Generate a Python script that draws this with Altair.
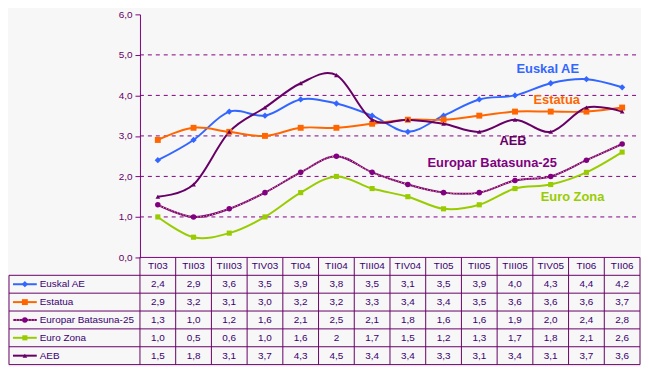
import altair as alt
import pandas as pd

categories = ["TI03", "TII03", "TIII03", "TIV03", "TI04", "TII04", "TIII04",
              "TIV04", "TI05", "TII05", "TIII05", "TIV05", "TI06", "TII06"]
series = ["Euskal AE", "Estatua", "Europar Batasuna-25", "Euro Zona", "AEB"]
euskal_ae = [2.4, 2.9, 3.6, 3.5, 3.9, 3.8, 3.5, 3.1, 3.5, 3.9, 4.0, 4.3, 4.4, 4.2]
estatua = [2.9, 3.2, 3.1, 3.0, 3.2, 3.2, 3.3, 3.4, 3.4, 3.5, 3.6, 3.6, 3.6, 3.7]
europar_b25 = [1.3, 1.0, 1.2, 1.6, 2.1, 2.5, 2.1, 1.8, 1.6, 1.6, 1.9, 2.0, 2.4, 2.8]
euro_zona = [1.0, 0.5, 0.6, 1.0, 1.6, 2, 1.7, 1.5, 1.2, 1.3, 1.7, 1.8, 2.1, 2.6]
aeb = [1.5, 1.8, 3.1, 3.7, 4.3, 4.5, 3.4, 3.4, 3.3, 3.1, 3.4, 3.1, 3.7, 3.6]
y_ticks = [0, 1, 2, 3, 4, 5, 6]
grid_vals = [1, 2, 3, 4, 5]

# in-chart series labels (annotation anchors)
ann_text = ["Euskal AE", "Estatua", "AEB", "Europar Batasuna-25", "Euro Zona"]
ann_cat = ["TIV05", "TIV05", "TIII05", "TII05", "TIV05"]
ann_val = [4.65, 3.88, 2.88, 2.34, 1.50]

colors = ["#3366FF", "#FF6600", "#800080", "#99CC00", "#660066"]
shapes = ["diamond", "square", "circle", "square", "triangle-up"]
sizes = [40, 22, 7, 22, 30]

PURPLE = "#660066"
TXT = "#3A0070"
FONT = "Liberation Sans"
W, H, TH = 504, 245, 108
LEFT = -132


def fmt(v):
    return str(v) if isinstance(v, int) else f"{v:.1f}".replace(".", ",")


rows = []
for s, vals in zip(series, [euskal_ae, estatua, europar_b25, euro_zona, aeb]):
    for i, (c, v) in enumerate(zip(categories, vals)):
        rows.append({"series": s, "cat": c, "value": float(v), "label": fmt(v), "idx": i, "row": s})
df = pd.DataFrame(rows)
sdf = pd.DataFrame({"series": series, "row": series})
hdf = pd.DataFrame({"cat": categories, "row": "hdr"})
gdf = pd.DataFrame({"g": grid_vals})
adf = pd.DataFrame({"series": ann_text, "cat": ann_cat, "value": ann_val})
one = pd.DataFrame({"a": [0]})

color_scale = alt.Scale(domain=series, range=colors)
shape_scale = alt.Scale(domain=series, range=shapes)
size_scale = alt.Scale(domain=series, range=sizes)

xp = alt.X("cat:N", scale=alt.Scale(type="point", domain=categories, padding=0.5), axis=None)
yq = alt.Y("value:Q", scale=alt.Scale(domain=[0, 6], nice=False),
           axis=alt.Axis(values=y_ticks, grid=False, title=None,
                         labelExpr="replace(format(datum.value, '.1f'), '.', ',')",
                         domainColor="#800080", tickColor="#800080", tickSize=5,
                         labelColor=PURPLE, labelFont=FONT, labelFontSize=10, labelPadding=3))

grid = alt.Chart(gdf).mark_rule(color="#800080", strokeDash=[4, 4], strokeWidth=1).encode(
    y=alt.Y("g:Q", scale=alt.Scale(domain=[0, 6], nice=False)),
    x=alt.value(0), x2=alt.value(W))

lines = alt.Chart(df).mark_line(interpolate="cardinal", strokeWidth=2).encode(
    x=xp, y=yq,
    color=alt.Color("series:N", scale=color_scale, legend=None),
    order=alt.Order("idx:Q"))

eb_dots = alt.Chart(df[df.series == "Europar Batasuna-25"]).mark_line(
    interpolate="cardinal", strokeWidth=1, color="#E0D060", strokeDash=[1, 2]).encode(
    x=xp, y=alt.Y("value:Q"), order=alt.Order("idx:Q"))

points = alt.Chart(df).mark_point(filled=True, opacity=1).encode(
    x=xp, y=alt.Y("value:Q"),
    color=alt.Color("series:N", scale=color_scale, legend=None),
    shape=alt.Shape("series:N", scale=shape_scale, legend=None),
    size=alt.Size("series:N", scale=size_scale, legend=None))

ann_dx = {"Euskal AE": -3, "Estatua": 6, "AEB": -2, "Europar Batasuna-25": 13, "Euro Zona": 22}
ann_layers = []
for name in ann_text:
    ann_layers.append(
        alt.Chart(adf[adf.series == name]).mark_text(
            font=FONT, fontSize=13, fontWeight="bold", dx=ann_dx[name]).encode(
            x=xp, y=alt.Y("value:Q"), text="series:N",
            color=alt.Color("series:N", scale=color_scale, legend=None)))

top = alt.layer(grid, lines, eb_dots, points, *ann_layers).properties(width=W, height=H)

# ---------- table ----------
xb_scale = alt.Scale(type="band", domain=categories, paddingInner=0, paddingOuter=0)
yb_scale = alt.Scale(type="band", domain=["hdr"] + series, paddingInner=0, paddingOuter=0)

vals_t = alt.Chart(df).mark_text(font=FONT, fontSize=10, color=TXT).encode(
    x=alt.X("cat:N", scale=xb_scale, axis=None, bandPosition=0.5),
    y=alt.Y("row:N", scale=yb_scale, axis=None, bandPosition=0.5),
    text="label:N")
hdr_t = alt.Chart(hdf).mark_text(font=FONT, fontSize=10, color=TXT).encode(
    x=alt.X("cat:N", scale=xb_scale, axis=None, bandPosition=0.5),
    y=alt.Y("row:N", scale=yb_scale, axis=None, bandPosition=0.5),
    text="cat:N")
vlines = alt.Chart(hdf).mark_rule(color=PURPLE, strokeWidth=1).encode(
    x=alt.X("cat:N", scale=xb_scale, axis=None, bandPosition=0),
    y=alt.value(0), y2=alt.value(TH))
vright = alt.Chart(one).mark_rule(color=PURPLE, strokeWidth=1).encode(
    x=alt.value(W), y=alt.value(0), y2=alt.value(TH))
vleft = alt.Chart(one).mark_rule(color=PURPLE, strokeWidth=1).encode(
    x=alt.value(LEFT), y=alt.value(TH / 6), y2=alt.value(TH))
hlines = alt.Chart(sdf).mark_rule(color=PURPLE, strokeWidth=1).encode(
    y=alt.Y("row:N", scale=yb_scale, axis=None, bandPosition=0),
    x=alt.value(LEFT), x2=alt.value(W))
htop = alt.Chart(one).mark_rule(color="#800080", strokeWidth=1).encode(
    y=alt.value(0), x=alt.value(0), x2=alt.value(W))
hbot = alt.Chart(one).mark_rule(color=PURPLE, strokeWidth=1).encode(
    y=alt.value(TH), x=alt.value(LEFT), x2=alt.value(W))
leg_line = alt.Chart(sdf).mark_rule(strokeWidth=2).encode(
    y=alt.Y("row:N", scale=yb_scale, axis=None, bandPosition=0.5),
    x=alt.value(LEFT + 4), x2=alt.value(LEFT + 28),
    color=alt.Color("series:N", scale=color_scale, legend=None))
leg_dots = alt.Chart(sdf[sdf.series == "Europar Batasuna-25"]).mark_rule(
    strokeWidth=1, color="#E0D060", strokeDash=[1, 2]).encode(
    y=alt.Y("row:N", scale=yb_scale, axis=None, bandPosition=0.5),
    x=alt.value(LEFT + 4), x2=alt.value(LEFT + 28))
leg_pts = alt.Chart(sdf).mark_point(filled=True, opacity=1).encode(
    y=alt.Y("row:N", scale=yb_scale, axis=None, bandPosition=0.5),
    x=alt.value(LEFT + 16),
    color=alt.Color("series:N", scale=color_scale, legend=None),
    shape=alt.Shape("series:N", scale=shape_scale, legend=None),
    size=alt.Size("series:N", scale=size_scale, legend=None))
leg_txt = alt.Chart(sdf).mark_text(font=FONT, fontSize=10, color=TXT, align="left").encode(
    y=alt.Y("row:N", scale=yb_scale, axis=None, bandPosition=0.5),
    x=alt.value(LEFT + 31), text="series:N")

table = alt.layer(vlines, vright, vleft, hlines, htop, hbot, leg_line, leg_dots, leg_pts,
                  leg_txt, hdr_t, vals_t).properties(width=W, height=TH)

chart = alt.vconcat(top, table, spacing=0, bounds="flush").properties(
    background="#F7F7F7", padding={"left": 0, "top": 0, "right": 0, "bottom": 0}
).configure_view(stroke=None)

chart.save("out.html", embed_options={"renderer": "svg", "actions": False})
